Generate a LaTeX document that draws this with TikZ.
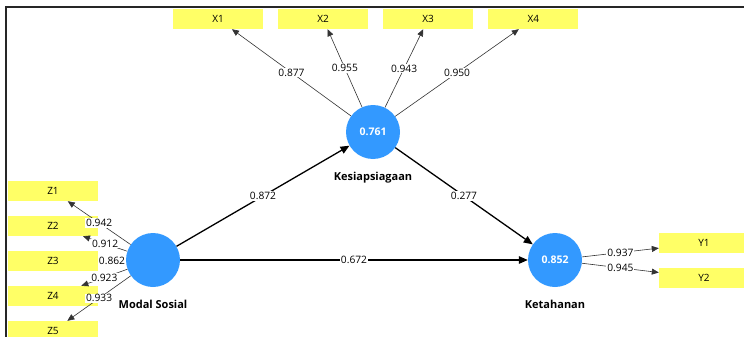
\documentclass[tikz,border=0pt]{standalone}
\usepackage{fontspec}
\setmainfont{Open Sans}
\usepackage{tikz}
\usetikzlibrary{arrows.meta, positioning}
\definecolor{lvblue}{RGB}{51,153,255}
\definecolor{mvyellow}{RGB}{255,255,102}

\begin{document}
\begin{tikzpicture}[
    x=1pt, y=-1pt,
    lv/.style={circle, fill=lvblue, minimum size=54pt, inner sep=0pt, text=white, font=\fontsize{10.5}{12}\selectfont\bfseries},
    lvname/.style={font=\fontsize{11}{13}\selectfont\bfseries},
    mv/.style={rectangle, fill=mvyellow, minimum width=90pt, minimum height=20pt, inner sep=0pt, font=\fontsize{10}{12}\selectfont},
    loading/.style={-{Triangle[length=7pt, width=6pt]}, line width=0.6pt, draw=black!80},
    inner/.style={-{Triangle[length=9pt, width=7.5pt]}, line width=1.3pt},
    coef/.style={midway, fill=white, inner sep=1pt, font=\fontsize{10.2}{12}\selectfont}
]
\clip (0,0) rectangle (744,337);

% Frame
\draw[line width=1.6pt, black!85] (6,337) |- (744,7);

% Latent variables
\node[lv] (ks) at (373,132) {0.761};
\node[lv] (ms) at (153,260) {};
\node[lv] (kt) at (555,260) {0.852};
\node[lvname, below=9pt of ks] (ksname) {Kesiapsiagaan};
\node[lvname, below=9pt of ms] (msname) {Modal Sosial};
\node[lvname, below=9pt of kt] (ktname) {Ketahanan};

% Indicators: Kesiapsiagaan
\node[mv] (x1) at (218,19) {X1};
\node[mv, right=14.7pt of x1] (x2) {X2};
\node[mv, right=14.7pt of x2] (x3) {X3};
\node[mv, right=14.7pt of x3] (x4) {X4};

% Indicators: Modal Sosial
\node[mv] (z1) at (53,191) {Z1};
\node[mv, below=14.6pt of z1] (z2) {Z2};
\node[mv, below=14.6pt of z2] (z3) {Z3};
\node[mv, below=14.6pt of z3] (z4) {Z4};
\node[mv, below=14.6pt of z4] (z5) {Z5};

% Indicators: Ketahanan
\node[mv] (y1) at (704,243) {Y1};
\node[mv, below=14.5pt of y1] (y2) {Y2};

% Outer loadings
\draw[loading] (ks) -- node[coef]{0.877} (x1);
\draw[loading] (ks) -- node[coef]{0.955} (x2);
\draw[loading] (ks) -- node[coef]{0.943} (x3);
\draw[loading] (ks) -- node[coef]{0.950} (x4);
\draw[loading] (ms) -- node[coef]{0.942} (z1);
\draw[loading] (ms) -- node[coef]{0.912} (z2);
\draw[loading] (ms) -- node[coef]{0.862} (z3);
\draw[loading] (ms) -- node[coef]{0.923} (z4);
\draw[loading] (ms) -- node[coef]{0.933} (z5);
\draw[loading] (kt) -- node[coef]{0.937} (y1);
\draw[loading] (kt) -- node[coef]{0.945} (y2);

% Path coefficients
\draw[inner] (ms) -- node[coef]{0.872} (ks);
\draw[inner] (ks) -- node[coef]{0.277} (kt);
\draw[inner] (ms) -- node[coef]{0.672} (kt);

\end{tikzpicture}
\end{document}
